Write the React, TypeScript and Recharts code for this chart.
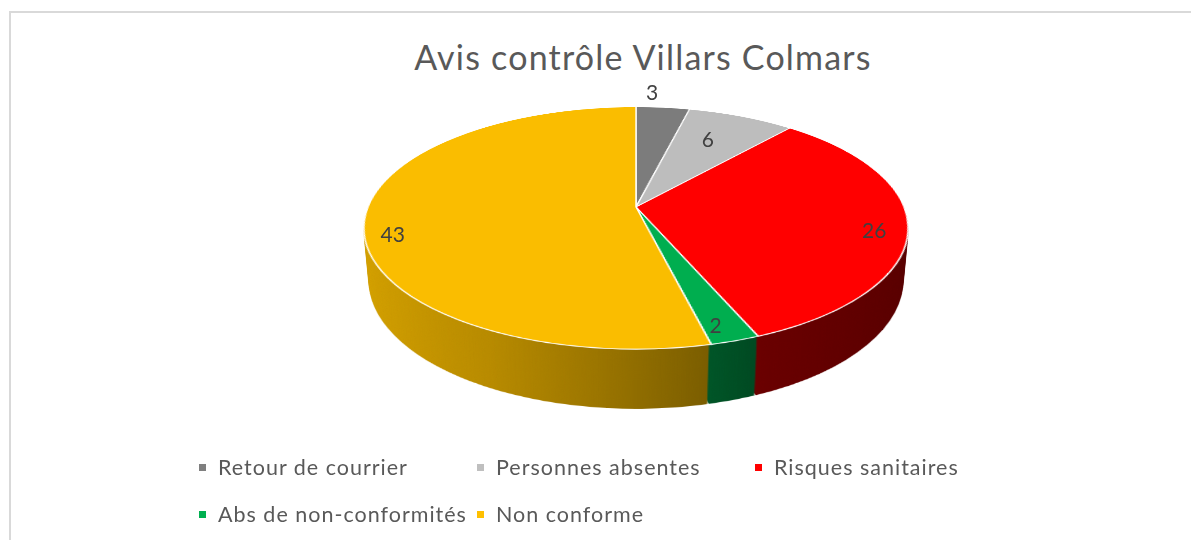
import React from 'react';
import { PieChart, Pie, Cell, Legend } from 'recharts';

// ---------- data ----------
const categories = [
  'Retour de courrier',
  'Personnes absentes',
  'Risques sanitaires',
  'Abs de non-conformités',
  'Non conforme',
];
const values = [3, 6, 26, 2, 43];
const legendColors = ['#7f7f7f', '#bfbfbf', '#ff0000', '#00b050', '#ffc000'];
const topColors = ['#7c7c7c', '#bdbdbd', '#ff0000', '#00ae4f', '#fabd00'];
const title = 'Avis contrôle Villars Colmars';

const data = categories.map((name, i) => ({ name, value: values[i] }));

// ---------- geometry / style ----------
const FONT = 'Lato, "Open Sans", sans-serif';
const R = 268; // pie radius in the un-tilted plane
const C = 280; // centre of the flat layer
const SIZE = 560;
const CX = 636; // screen centre of the pie
const CY = 207;
const TILT = 64; // degrees
const PERSP = 1387;
const DEPTH = 59;
const SHADE: [number, number][] = [
  [0, 0.85],
  [0.27, 0.73],
  [0.44, 0.62],
  [0.6, 0.5],
  [0.7, 0.41],
  [1, 0.34],
];
const LABEL_R = [1.19, 0.71, 0.88, 0.89, 0.9];
const LABEL_DA = [-3.25, -2.2, 3, 1.5, -7];
const LEG_X = [199, 477, 755];
const LEG_Y = [19, 66];

function hexToRgb(h: string) {
  const n = parseInt(h.slice(1), 16);
  return [(n >> 16) & 255, (n >> 8) & 255, n & 255];
}
function shade(h: string, f: number) {
  const [r, g, b] = hexToRgb(h);
  return `rgb(${Math.round(r * f)},${Math.round(g * f)},${Math.round(b * f)})`;
}

function project(lx: number, ly: number) {
  const a = (TILT * Math.PI) / 180;
  const yr = ly * Math.cos(a);
  const zr = ly * Math.sin(a);
  const k = PERSP / (PERSP - zr);
  return [lx * k, yr * k];
}

const renderLabel = (props: any) => {
  const { cx, cy, midAngle, outerRadius, index, value } = props;
  const phi = ((90 - midAngle + LABEL_DA[index]) * Math.PI) / 180;
  const r = outerRadius * LABEL_R[index];
  const [dx, dy] = project(r * Math.sin(phi), -r * Math.cos(phi));
  return (
    <text
      x={cx + dx}
      y={cy + dy}
      textAnchor="middle"
      dominantBaseline="central"
      fill="#404040"
      fontSize={21}
      fontFamily={FONT}
    >
      {value}
    </text>
  );
};

const renderLegend = (props: any) => {
  const payload = [...(props.payload || [])].sort(
    (a: any, b: any) => categories.indexOf(a.value) - categories.indexOf(b.value)
  );
  return (
    <div style={{ position: 'relative', width: 1191, height: 90, fontFamily: FONT }}>
      {payload.map((p: any, i: number) => {
        const col = i % 3;
        const row = Math.floor(i / 3);
        return (
          <div
            key={i}
            style={{
              position: 'absolute',
              left: LEG_X[col],
              top: LEG_Y[row] - 13,
              height: 26,
              display: 'flex',
              alignItems: 'center',
              whiteSpace: 'nowrap',
              fontSize: 21.5,
              letterSpacing: 1.0,
              color: '#595959',
            }}
          >
            <span
              style={{
                display: 'inline-block',
                width: 7,
                height: 7,
                background: p.color || legendColors[categories.indexOf(p.value)],
                marginRight: 12,
              }}
            />
            <span>{p.value}</span>
          </div>
        );
      })}
    </div>
  );
};

function Layer({ z, top }: { z: number; top: boolean }) {
  return (
    <div
      style={{
        position: 'absolute',
        left: CX - C,
        top: CY - C,
        width: SIZE,
        height: SIZE,
        transformOrigin: `${C}px ${C}px`,
        transform: `perspective(${PERSP}px) rotateX(${TILT}deg) translateZ(${-z}px)`,
      }}
    >
      <PieChart width={SIZE} height={SIZE} margin={{ top: 0, right: 0, bottom: 0, left: 0 }}>
        <Pie
          data={data}
          dataKey="value"
          nameKey="name"
          cx={C}
          cy={C}
          outerRadius={R}
          startAngle={90}
          endAngle={-270}
          paddingAngle={top ? 0 : 0.25}
          stroke={top ? '#ffffff' : 'none'}
          strokeWidth={top ? 1.5 : 0}
          isAnimationActive={false}
          labelLine={false}
          legendType="none"
        >
          {data.map((_, i) => (
            <Cell key={i} fill={top ? topColors[i] : `url(#side-${i})`} />
          ))}
        </Pie>
      </PieChart>
    </div>
  );
}

export default function App() {
  const depths: number[] = [];
  for (let z = DEPTH; z >= 1; z--) depths.push(z);
  return (
    <div
      style={{
        position: 'fixed',
        left: 0,
        top: 0,
        width: 1191,
        height: 540,
        overflow: 'hidden',
        background: '#ffffff',
        fontFamily: FONT,
      }}
    >
      <svg width={0} height={0} style={{ position: 'absolute' }}>
        <defs>
          {topColors.map((c, i) => (
            <linearGradient
              key={i}
              id={`side-${i}`}
              gradientUnits="userSpaceOnUse"
              x1={C - R}
              y1={0}
              x2={C + R}
              y2={0}
            >
              {SHADE.map(([o, f], j) => (
                <stop key={j} offset={o} stopColor={shade(c, f)} />
              ))}
            </linearGradient>
          ))}
        </defs>
      </svg>

      <div
        style={{
          position: 'absolute',
          left: 9,
          top: 11,
          width: 1300,
          height: 700,
          borderTop: '2px solid #d9d9d9',
          borderLeft: '2px solid #d9d9d9',
        }}
      />

      {depths.map((z) => (
        <Layer key={z} z={z} top={false} />
      ))}
      <Layer z={0} top={true} />

      <div
        style={{
          position: 'absolute',
          left: 243,
          width: 800,
          top: 34,
          height: 46,
          lineHeight: '46px',
          textAlign: 'center',
          fontSize: 34,
          letterSpacing: 1.2,
          color: '#595959',
        }}
      >
        {title}
      </div>

      <div style={{ position: 'absolute', left: 0, top: 0 }}>
        <PieChart width={1191} height={540} margin={{ top: 0, right: 0, bottom: 0, left: 0 }}>
          <Pie
            data={data}
            dataKey="value"
            nameKey="name"
            cx={CX}
            cy={CY}
            outerRadius={R}
            startAngle={90}
            endAngle={-270}
            fillOpacity={0}
            stroke="none"
            isAnimationActive={false}
            labelLine={false}
            label={renderLabel}
          >
            {data.map((_, i) => (
              <Cell key={i} fill={legendColors[i]} />
            ))}
          </Pie>
          <Legend
            content={renderLegend}
            wrapperStyle={{ position: 'absolute', left: 0, top: 448, width: 1191, height: 90 }}
          />
        </PieChart>
      </div>
    </div>
  );
}
